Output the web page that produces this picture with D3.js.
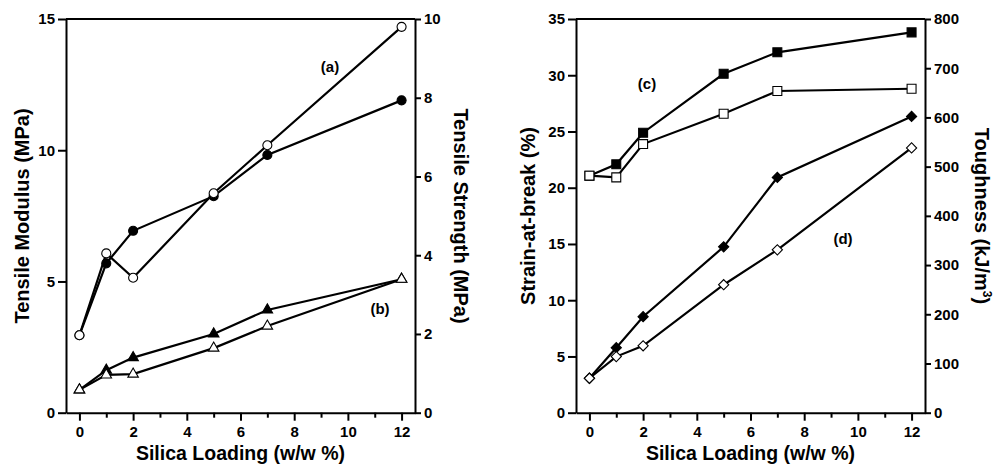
<!DOCTYPE html>
<html>
<head>
<meta charset="utf-8">
<script src="https://cdn.jsdelivr.net/npm/d3@7"></script>
<style>
    body { margin: 0; background: #fff; }
    svg text { font-family: "Liberation Sans", Arial, sans-serif; font-weight: bold; fill: #000; }
</style>
</head>
<body>
<div id="chart"></div>
<script>
// silica loading (w/w %)
const loading = [0, 1, 2, 5, 7, 12];

// (a) tensile modulus, MPa (left axis of first panel)
const modulusOpen = [2.95, 6.07, 5.14, 8.36, 10.19, 14.70];
const modulusFilled = [2.95, 5.69, 6.93, 8.25, 9.82, 11.90];
// (b) tensile strength, MPa (right axis of first panel)
const strengthOpen = [0.58, 0.96, 0.98, 1.64, 2.20, 3.39];
const strengthFilled = [0.58, 1.08, 1.40, 2.00, 2.61, 3.39];

// (c) strain-at-break, % (left axis of second panel)
const strainOpen = [21.07, 20.92, 23.88, 26.58, 28.60, 28.80];
const strainFilled = [21.07, 22.08, 24.89, 30.13, 32.04, 33.81];
// (d) toughness, kJ/m3 (right axis of second panel)
const toughOpen = [70, 114, 136, 260, 331, 538];
const toughFilled = [70, 132, 195, 337, 478, 602];

const xTicks = [0, 2, 4, 6, 8, 10, 12];
const xMinorTicks = [1, 3, 5, 7, 9, 11];

const width = 995,
    height = 470;

const svg = d3.select("#chart")
    .append("svg")
    .attr("width", width)
    .attr("height", height);

function drawPanel(p) {
    let x = d3.scaleLinear().domain([-0.5, 12.5]).range([p.left, p.right]);
    let yL = d3.scaleLinear().domain(p.leftDomain).range([412.7, 19]);
    let yR = d3.scaleLinear().domain(p.rightDomain).range([412.7, 19]);

    let g = svg.append("g");

    // top frame line
    g.append("line")
        .attr("x1", p.left).attr("x2", p.right)
        .attr("y1", 19).attr("y2", 19)
        .attr("stroke", "#000").attr("stroke-width", 2);

    // bottom axis, major + minor ticks
    g.append("g")
        .attr("transform", "translate(0,412.7)")
        .call(d3.axisBottom(x).tickValues(xTicks).tickSize(8).tickPadding(6).tickSizeOuter(0));
    g.append("g")
        .attr("transform", "translate(0,412.7)")
        .call(d3.axisBottom(x).tickValues(xMinorTicks).tickSize(5).tickFormat("").tickSizeOuter(0))
        .select(".domain").remove();

    g.append("g")
        .attr("transform", "translate(" + p.left + ",0)")
        .call(d3.axisLeft(yL).tickValues(p.leftTicks).tickSize(8).tickPadding(3).tickSizeOuter(0));

    g.append("g")
        .attr("transform", "translate(" + p.right + ",0)")
        .call(d3.axisRight(yR).tickValues(p.rightTicks).tickSize(6).tickPadding(3).tickSizeOuter(0));

    g.selectAll(".domain, .tick line")
        .attr("stroke", "#000")
        .attr("stroke-width", 2);
    g.selectAll(".tick text")
        .attr("font-size", 15);

    // axis titles
    g.append("text")
        .attr("x", (p.left + p.right) / 2)
        .attr("y", 460)
        .attr("text-anchor", "middle")
        .attr("font-size", 19.5)
        .text("Silica Loading (w/w %)");

    g.append("text")
        .attr("transform", "translate(" + p.leftTitleX + ",216) rotate(-90)")
        .attr("text-anchor", "middle")
        .attr("dy", "0.36em")
        .attr("font-size", 20)
        .text(p.leftTitle);

    let rt = g.append("text")
        .attr("transform", "translate(" + p.rightTitleX + ",216) rotate(90)")
        .attr("text-anchor", "middle")
        .attr("dy", "0.36em")
        .attr("font-size", 20)
        .text(p.rightTitle);
    if (p.rightSup) {
        rt.append("tspan").attr("font-size", 12).attr("dy", "-0.7em").text(p.rightSup);
        rt.append("tspan").attr("dy", "0.42em").text(")");
    }

    // series lines
    let series = [
        { v: p.leftFilled, y: yL, sym: p.leftSym, fill: "#000" },
        { v: p.leftOpen, y: yL, sym: p.leftSym, fill: "#fff" },
        { v: p.rightFilled, y: yR, sym: p.rightSym, fill: "#000" },
        { v: p.rightOpen, y: yR, sym: p.rightSym, fill: "#fff" }
    ];

    series.forEach(s => {
        let line = d3.line()
            .x((d, i) => x(loading[i]))
            .y(d => s.y(d));
        g.append("path")
            .attr("d", line(s.v))
            .attr("fill", "none")
            .attr("stroke", "#000")
            .attr("stroke-width", 2.2);
    });

    // markers: filled first, open on top
    [series[0], series[2], series[1], series[3]].forEach(s => {
        g.selectAll(null)
            .data(s.v)
            .enter()
            .append("path")
            .attr("d", d3.symbol().type(s.sym.type).size(s.sym.size))
            .attr("transform", (d, i) => "translate(" + x(loading[i]) + "," + s.y(d) + ") rotate(" + (s.sym.rot || 0) + ")")
            .attr("fill", s.fill)
            .attr("stroke", "#000")
            .attr("stroke-width", 1.1);
    });

    // panel labels
    p.labels.forEach(l => {
        g.append("text")
            .attr("x", l.x)
            .attr("y", l.y)
            .attr("text-anchor", "middle")
            .attr("dy", "0.36em")
            .attr("font-size", 15)
            .text(l.text);
    });
}

drawPanel({
    left: 66, right: 415,
    leftDomain: [0, 15], leftTicks: [0, 5, 10, 15],
    rightDomain: [0, 10], rightTicks: [0, 2, 4, 6, 8, 10],
    leftTitle: "Tensile Modulus (MPa)", leftTitleX: 22,
    rightTitle: "Tensile Strength (MPa)", rightTitleX: 461,
    leftOpen: modulusOpen, leftFilled: modulusFilled,
    rightOpen: strengthOpen, rightFilled: strengthFilled,
    leftSym: { type: d3.symbolCircle, size: 64 },
    rightSym: { type: d3.symbolTriangle, size: 48 },
    labels: [{ text: "(a)", x: 330, y: 67 }, { text: "(b)", x: 380, y: 309 }]
});

drawPanel({
    left: 576, right: 925,
    leftDomain: [0, 35], leftTicks: [0, 5, 10, 15, 20, 25, 30, 35],
    rightDomain: [0, 800], rightTicks: [0, 100, 200, 300, 400, 500, 600, 700, 800],
    leftTitle: "Strain-at-break (%)", leftTitleX: 528,
    rightTitle: "Toughness (kJ/m", rightSup: "3", rightTitleX: 982,
    leftOpen: strainOpen, leftFilled: strainFilled,
    rightOpen: toughOpen, rightFilled: toughFilled,
    leftSym: { type: d3.symbolSquare, size: 80 },
    rightSym: { type: d3.symbolSquare, size: 52, rot: 45 },
    labels: [{ text: "(c)", x: 647, y: 84 }, { text: "(d)", x: 843, y: 239 }]
});
</script>
</body>
</html>
